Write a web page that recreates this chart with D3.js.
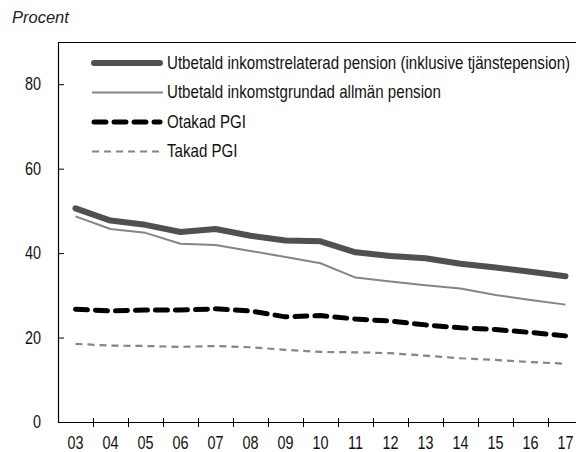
<!DOCTYPE html>
<html>
<head>
<meta charset="utf-8">
<script src="https://cdn.jsdelivr.net/npm/d3@7"></script>
<style>
body{margin:0;background:#fff}
svg{display:block}
</style>
</head>
<body>
<div id="chart"></div>
<script>
var years = ["03","04","05","06","07","08","09","10","11","12","13","14","15","16","17"]
var yTicks = [0,20,40,60,80]

var inkomstrelaterad = [50.6,47.7,46.7,45.0,45.7,44.1,43.0,42.8,40.2,39.3,38.8,37.5,36.6,35.6,34.5]
var allman = [48.7,45.7,44.8,42.2,41.9,40.5,39.1,37.6,34.2,33.3,32.4,31.6,30.1,28.9,27.8]
var otakad = [26.7,26.3,26.5,26.5,26.8,26.3,24.9,25.2,24.4,23.9,23.0,22.3,21.9,21.2,20.4]
var takad = [18.5,18.1,18.0,17.8,18.0,17.7,17.1,16.6,16.5,16.3,15.7,15.1,14.7,14.2,13.8]

var series = [
    {name:"Utbetald inkomstrelaterad pension (inklusive tjänstepension)",values:inkomstrelaterad,color:"#505050",width:6,dash:null},
    {name:"Utbetald inkomstgrundad allmän pension",values:allman,color:"#858585",width:2,dash:null},
    {name:"Otakad PGI",values:otakad,color:"#000",width:5,dash:"12,8"},
    {name:"Takad PGI",values:takad,color:"#858585",width:2.2,dash:"7,5"}
]

var font = "'Liberation Sans',Arial,sans-serif"
var sx = 0.8    // squeeze axis text to mimic a condensed face
var lsx = 0.84  // same for legend

var svg = d3.select("#chart")
    .append("svg")
    .attr("width",576)
    .attr("height",452)

var mLeft = 58, mTop = 42, mBottom = 422
var x = d3.scaleBand().domain(years).range([mLeft,mLeft+15*35]).padding(0)
var y = d3.scaleLinear().domain([0,90]).range([mBottom,mTop])

svg.append("text")
    .text("Procent")
    .attr("x",12)
    .attr("y",23)
    .attr("font-family",font)
    .attr("font-style","italic")
    .attr("font-size",16.5)
    .attr("fill","#222")

// frame top
svg.append("line")
    .attr("x1",mLeft).attr("x2",x.range()[1])
    .attr("y1",mTop+0.5).attr("y2",mTop+0.5)
    .attr("stroke","#000")
    .attr("stroke-width",1.2)

// y axis
var yAxis = svg.append("g")
    .attr("transform","translate("+mLeft+",0)")
    .call(d3.axisLeft(y).tickValues(yTicks).tickSize(-6).tickPadding(17).tickSizeOuter(0))
yAxis.select(".domain").attr("d","M0.5,"+mTop+"V"+mBottom).attr("stroke-width",1.2)
yAxis.selectAll(".tick line").attr("stroke-width",1)
yAxis.selectAll("text")
    .attr("x",-17/sx)
    .attr("transform","scale("+sx+",1)")
    .attr("font-family",font).attr("font-size",18).attr("fill","#111")

// x axis
var xAxis = svg.append("g")
    .attr("transform","translate(0,"+mBottom+")")
    .call(d3.axisBottom(x).tickSize(0).tickPadding(14).tickSizeOuter(0))
xAxis.select(".domain").attr("stroke-width",1.2)
xAxis.selectAll("text")
    .attr("transform","scale("+sx+",1)")
    .attr("font-family",font).attr("font-size",18).attr("fill","#111")

xAxis.selectAll(".sep")
    .data(years.slice(1))
    .enter()
    .append("line")
    .attr("x1",d=>x(d)+0.5)
    .attr("x2",d=>x(d)+0.5)
    .attr("y1",-4)
    .attr("y2",5)
    .attr("stroke","#000")

var line = d3.line()
    .x((d,i)=>x(years[i])+x.bandwidth()/2)
    .y(d=>y(d))

svg.selectAll(".series")
    .data(series.slice().reverse())
    .enter()
    .append("path")
    .attr("d",d=>line(d.values))
    .attr("fill","none")
    .attr("stroke",d=>d.color)
    .attr("stroke-width",d=>d.width)
    .attr("stroke-dasharray",d=>d.dash)
    .attr("stroke-linecap",d=>d.width>=5?"round":"butt")
    .attr("stroke-linejoin","round")

// legend
var legend = svg.selectAll(".legend")
    .data(series)
    .enter()
    .append("g")
    .attr("transform",(d,i)=>"translate(0,"+(63+i*29.5)+")")

legend.append("line")
    .attr("x1",d=>d.width>=5?94:92)
    .attr("x2",d=>d.width>=5?160:163)
    .attr("stroke",d=>d.color)
    .attr("stroke-width",d=>d.width)
    .attr("stroke-dasharray",d=>d.dash)
    .attr("stroke-linecap",d=>d.width>=5?"round":"butt")

legend.append("text")
    .text(d=>d.name)
    .attr("x",167/lsx)
    .attr("y",0)
    .attr("transform","scale("+lsx+",1)")
    .attr("dominant-baseline","central")
    .attr("font-family",font)
    .attr("font-size",18)
    .attr("fill","#111")
</script>
</body>
</html>
